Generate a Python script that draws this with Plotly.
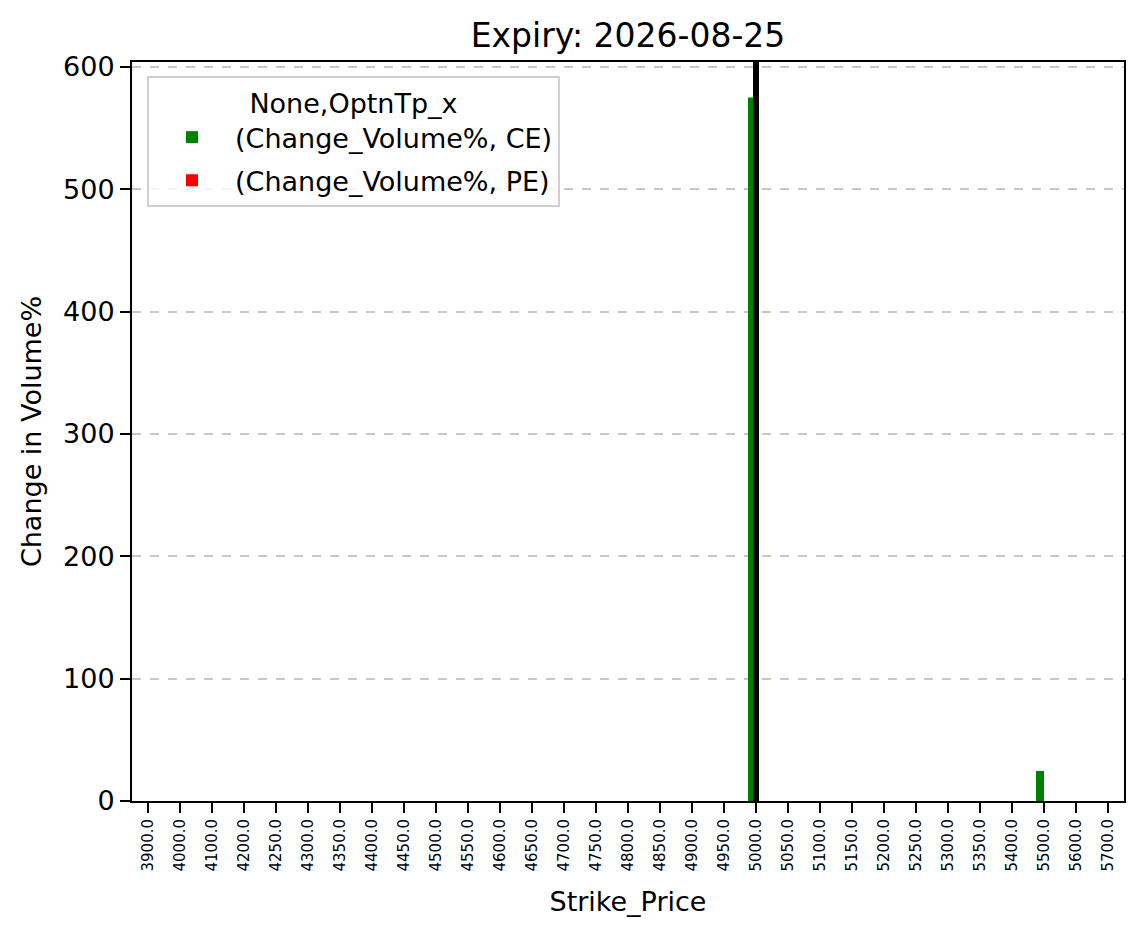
import plotly.graph_objects as go

strikes = ["3900.0", "4000.0", "4100.0", "4200.0", "4250.0", "4300.0", "4350.0", "4400.0",
           "4450.0", "4500.0", "4550.0", "4600.0", "4650.0", "4700.0", "4750.0", "4800.0",
           "4850.0", "4900.0", "4950.0", "5000.0", "5050.0", "5100.0", "5150.0", "5200.0",
           "5250.0", "5300.0", "5350.0", "5400.0", "5500.0", "5600.0", "5700.0"]
ce_values = [0] * 19 + [575] + [0] * 8 + [24.5] + [0, 0]
pe_values = [0] * 31
spot_strike = "5000.0"
y_max = 604
y_ticks = [0, 100, 200, 300, 400, 500, 600]

font = "DejaVu Sans"
W, H = 1143, 939
L, R, T, B = 132, 19, 62, 138
pw, ph = W - L - R, H - T - B

fig = go.Figure()
fig.add_trace(go.Bar(x=strikes, y=ce_values, name="(Change_Volume%, CE)", legendgroup="ce",
                     marker=dict(color="green", line=dict(width=0))))
fig.add_trace(go.Bar(x=strikes, y=pe_values, name="(Change_Volume%, PE)", legendgroup="pe",
                     marker=dict(color="red", line=dict(width=0))))

spot_idx = strikes.index(spot_strike)
fig.add_shape(type="line", xref="x", yref="paper", x0=spot_idx, x1=spot_idx,
              y0=0, y1=1, line=dict(color="black", width=6), layer="above")

fig.update_layout(
    width=W, height=H,
    paper_bgcolor="white", plot_bgcolor="white",
    margin=dict(l=L, r=R, t=T, b=B),
    barmode="group", bargap=0.5, bargroupgap=0,
    font=dict(family=font, color="black", size=27),
    title=dict(text="Expiry: 2026-08-25", x=(L + pw / 2) / W, xanchor="center",
               y=1 - 35 / H, yanchor="middle", font=dict(size=33, family=font)),
    legend=dict(
        x=(147 - L) / pw, y=1 - (76 - T) / ph,
        xanchor="left", yanchor="top",
        bordercolor="#d0d0d0", borderwidth=2, bgcolor="rgba(255,255,255,0.8)",
        title=dict(text="None,OptnTp_x", side="top center", font=dict(size=27)),
        font=dict(size=27), itemwidth=76, tracegroupgap=5,
    ),
    showlegend=True,
)
fig.update_xaxes(
    type="category", categoryorder="array", categoryarray=strikes,
    range=[-0.5, len(strikes) - 0.5],
    tickangle=-90, tickfont=dict(size=15), ticks="outside", ticklen=10, tickwidth=2,
    tickcolor="black",
    showline=True, linecolor="black", linewidth=2, mirror=True, showgrid=False,
    title=dict(text="Strike_Price", font=dict(size=27), standoff=22),
)
fig.update_yaxes(
    range=[0, y_max], tickvals=y_ticks,
    ticks="outside", ticklen=10, tickwidth=2, tickcolor="black", tickfont=dict(size=27),
    showline=True, linecolor="black", linewidth=2, mirror=True,
    showgrid=True, gridcolor="#c8c8c8", griddash="dash", gridwidth=1.5,
    zeroline=False,
    title=dict(text="Change in Volume%", font=dict(size=27), standoff=14),
)

fig.write_html("out.html")
